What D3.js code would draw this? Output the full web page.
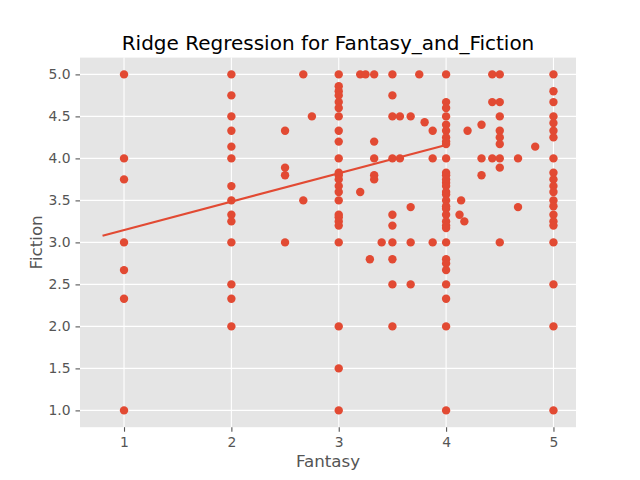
<!DOCTYPE html>
<html>
<head>
<meta charset="utf-8">
<script src="https://cdn.jsdelivr.net/npm/d3@7"></script>
<style>
  html, body { margin: 0; padding: 0; background: #fff; }
  svg { display: block; font-family: "DejaVu Sans", sans-serif; }
</style>
</head>
<body>
<svg id="chart" width="640" height="480"></svg>
<script>
// ---- Data ----
const fantasy = [
  1,1,1,1,1,1,1,
  2,2,2,2,2,2,2,2,2,2,2,2,2,2,
  2.5,2.5,2.5,2.5,
  2.67,2.67,
  2.75,
  3,3,3,3,3,3,3,3,3,3,3,3,3,3,3,3,3,3,3,3,3,3,3,3,
  3.2,3.2,
  3.25,
  3.29,
  3.33,3.33,3.33,3.33,3.33,
  3.4,
  3.5,3.5,3.5,3.5,3.5,3.5,3.5,3.5,3.5,3.5,
  3.57,3.57,
  3.67,3.67,3.67,3.67,
  3.75,
  3.8,
  3.875,3.875,3.875,
  4,4,4,4,4,4,4,4,4,4,4,4,4,4,4,4,4,4,4,4,4,4,4,4,4,4,4,4,4,4,4,4,
  4.14,
  4.125,
  4.17,
  4.2,
  4.33,4.33,4.33,
  4.43,4.43,4.43,
  4.5,4.5,4.5,4.5,4.5,4.5,4.5,4.5,4.5,
  4.67,4.67,
  4.83,
  5,5,5,5,5,5,5,5,5,5,5,5,5,5,5,5,5,5,5,5,5
];
const fiction = [
  5,4,3.75,3,2.67,2.33,1,
  5,4.75,4.5,4.33,4.14,4,3.67,3.5,3.33,3.25,3,2.5,2.33,2,
  4.33,3.89,3.8,3,
  5,3.5,
  4.5,
  5,4.86,4.8,4.75,4.67,4.6,4.5,4.33,4.2,4,3.83,3.8,3.75,3.67,3.6,3.5,3.33,3.3,3.25,3.2,3,2,1.5,1,
  5,3.6,
  5,
  2.8,
  5,4.2,4,3.8,3.75,
  3,
  5,4.75,4.5,4,3.33,3.2,3,2.8,2.5,2,
  4.5,4,
  4.5,3.42,3,2.5,
  5,
  4.43,
  4.33,4,3,
  5,4.67,4.6,4.5,4.4,4.33,4.25,4.2,4.17,4,3.83,3.8,3.75,3.71,3.67,3.6,3.57,3.5,3.43,3.4,3.33,3.25,3.2,3.17,3,2.8,2.75,2.67,2.5,2.33,2,1,
  3.5,
  3.33,
  3.25,
  4.33,
  4.4,4,3.8,
  5,4.67,4,
  5,4.67,4.5,4.33,4.25,4.17,4,3.89,3,
  4,3.42,
  4.14,
  5,4.8,4.67,4.5,4.42,4.33,4.25,4,3.83,3.75,3.67,3.6,3.5,3.43,3.33,3.25,3.2,3,2.5,2,1
];
// Ridge regression fitted line (endpoints)
const lineX = [0.8, 4.0];
const lineY = [3.08, 4.16];

const xTicks = [1, 2, 3, 4, 5];
const yTicks = [1.0, 1.5, 2.0, 2.5, 3.0, 3.5, 4.0, 4.5, 5.0];

const titleText = "Ridge Regression for Fantasy_and_Fiction";
const xLabel = "Fantasy";
const yLabel = "Fiction";

// ---- Layout ----
const W = 640, H = 480;
const m = { left: 80, right: 576, top: 57.6, bottom: 427.2 };
const color = "#E24A33";
const tickColor = "#555555";

const svg = d3.select("#chart");

const x = d3.scaleLinear().domain([0.59, 5.21]).range([m.left, m.right]);
const y = d3.scaleLinear().domain([0.8, 5.2]).range([m.bottom, m.top]);

// background
svg.append("rect").attr("width", W).attr("height", H).attr("fill", "#ffffff");
svg.append("rect")
  .attr("x", m.left).attr("y", m.top)
  .attr("width", m.right - m.left).attr("height", m.bottom - m.top)
  .attr("fill", "#E5E5E5");

// grid
const grid = svg.append("g");
grid.selectAll("line.gx").data(xTicks).join("line")
  .attr("x1", d => x(d)).attr("x2", d => x(d))
  .attr("y1", m.top).attr("y2", m.bottom)
  .attr("stroke", "#ffffff").attr("stroke-width", 1.1);
grid.selectAll("line.gy").data(yTicks).join("line")
  .attr("y1", d => y(d)).attr("y2", d => y(d))
  .attr("x1", m.left).attr("x2", m.right)
  .attr("stroke", "#ffffff").attr("stroke-width", 1.1);

// axes
const xAxis = d3.axisBottom(x).tickValues(xTicks).tickFormat(d3.format("d"))
  .tickSize(4.5).tickPadding(5);
const yAxis = d3.axisLeft(y).tickValues(yTicks).tickFormat(d3.format(".1f"))
  .tickSize(4.5).tickPadding(5);

const gx = svg.append("g").attr("transform", `translate(0,${m.bottom})`).call(xAxis);
const gy = svg.append("g").attr("transform", `translate(${m.left},0)`).call(yAxis);
[gx, gy].forEach(g => {
  g.select(".domain").remove();
  g.selectAll(".tick line").attr("stroke", tickColor).attr("stroke-width", 1.1);
  g.selectAll(".tick text")
    .attr("fill", tickColor)
    .style("font-size", "13.9px")
    .style("font-family", "'DejaVu Sans', sans-serif");
});

// scatter points
svg.append("g").selectAll("circle")
  .data(fantasy.map((f, i) => [f, fiction[i]]))
  .join("circle")
  .attr("cx", d => x(d[0]))
  .attr("cy", d => y(d[1]))
  .attr("r", 4.2)
  .attr("fill", color);

// regression line
svg.append("path")
  .datum(lineX.map((v, i) => [v, lineY[i]]))
  .attr("d", d3.line().x(d => x(d[0])).y(d => y(d[1])))
  .attr("fill", "none")
  .attr("stroke", color)
  .attr("stroke-width", 2.1);

// title
svg.append("text")
  .attr("x", (m.left + m.right) / 2).attr("y", 49.5)
  .attr("text-anchor", "middle")
  .attr("fill", "#000000")
  .style("font-size", "20px")
  .text(titleText);

// x label
svg.append("text")
  .attr("x", (m.left + m.right) / 2).attr("y", 467)
  .attr("text-anchor", "middle")
  .attr("fill", tickColor)
  .style("font-size", "16.7px")
  .text(xLabel);

// y label
svg.append("text")
  .attr("transform", `translate(42,${(m.top + m.bottom) / 2}) rotate(-90)`)
  .attr("text-anchor", "middle")
  .attr("fill", tickColor)
  .style("font-size", "16.7px")
  .text(yLabel);
</script>
</body>
</html>
